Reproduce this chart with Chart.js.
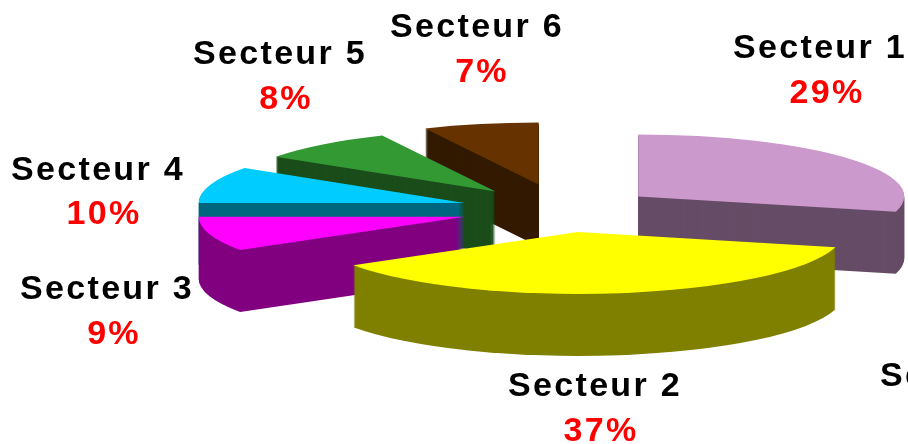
<!DOCTYPE html>
<html><head><meta charset="utf-8">
<style>html,body{margin:0;padding:0;background:#fff}#w{width:908px;height:444px;position:relative}</style>
<script src="https://cdn.jsdelivr.net/npm/chart.js@4/dist/chart.umd.min.js"></script>
</head><body><div id="w"><canvas id="c" width="908" height="444"></canvas></div>
<script>
const categories = ["Secteur 1","Secteur 2","Secteur 3","Secteur 4","Secteur 5","Secteur 6"];
const shares = [29,37,9,9.5,8.49,7.01];
const percentLabels = ["29%","37%","9%","10%","8%","7%"];
const topColors = ["#CC99CC","#FFFF00","#FF00FF","#00CCFF","#339933","#663300"];
const wallColors = ["#664C66","#808000","#800080","#006680","#1A4D1A","#331A00"];
const explodeShares = [0.358,0.358,0.385,0.387,0.39,0.42];
const paintOrder = [5,4,3,0,2,1];
const labelCentres = [[820,49],[595,387],[107,290],[98,171],[280,55],[477,28]];
const percentCentres = [[827,94],[601,432],[114,335],[104,215],[286,100],[482,73]];
const view = {cx:563, cy:210, rx:266, ry:62, depth:62};

const pie3d = {
  id:'pie3d',
  beforeDatasetDraw(chart){
    const ctx = chart.ctx, arcs = chart.getDatasetMeta(0).data;
    const o = arcs[0], sx = view.rx/o.outerRadius, sy = view.ry/o.outerRadius;
    const paint = (el, i, dy, fill) => {
      const saved = el.options;
      const mid = (el.startAngle+el.endAngle)/2, d = explodeShares[i]*el.outerRadius;
      el.options = Object.assign({}, saved, {backgroundColor:fill, borderWidth:0});
      ctx.save();
      ctx.translate(view.cx, view.cy+dy);
      ctx.scale(sx,sy);
      ctx.translate(Math.cos(mid)*d-o.x, Math.sin(mid)*d-o.y);
      el.draw(ctx);
      ctx.restore();
      el.options = saved;
    };
    paintOrder.forEach(i=>{
      for(let d=view.depth;d>0;d--) paint(arcs[i],i,d,wallColors[i]);
      paint(arcs[i],i,0,topColors[i]);
    });
    return false;
  },
  afterDraw(chart){
    const ctx = chart.ctx;
    ctx.save();
    ctx.textAlign='center'; ctx.textBaseline='middle';
    ctx.letterSpacing='2.3px';
    ctx.font='bold 34px "Liberation Sans", Arial, sans-serif';
    ctx.fillStyle='#000';
    categories.forEach((t,i)=>ctx.fillText(t,labelCentres[i][0],labelCentres[i][1]));
    ctx.textAlign='left';
    ctx.fillText('Se',880,377);
    ctx.textAlign='center';
    ctx.fillStyle='#FF0000';
    percentLabels.forEach((t,i)=>ctx.fillText(t,percentCentres[i][0],percentCentres[i][1]));
    ctx.restore();
  }
};
new Chart(document.getElementById('c'),{
  type:'pie',
  data:{labels:categories,datasets:[{data:shares,backgroundColor:topColors,borderWidth:0}]},
  options:{responsive:false,animation:false,events:[],layout:{padding:0},
    plugins:{legend:{display:false},tooltip:{enabled:false},title:{display:false}}},
  plugins:[pie3d]
});
</script></body></html>
